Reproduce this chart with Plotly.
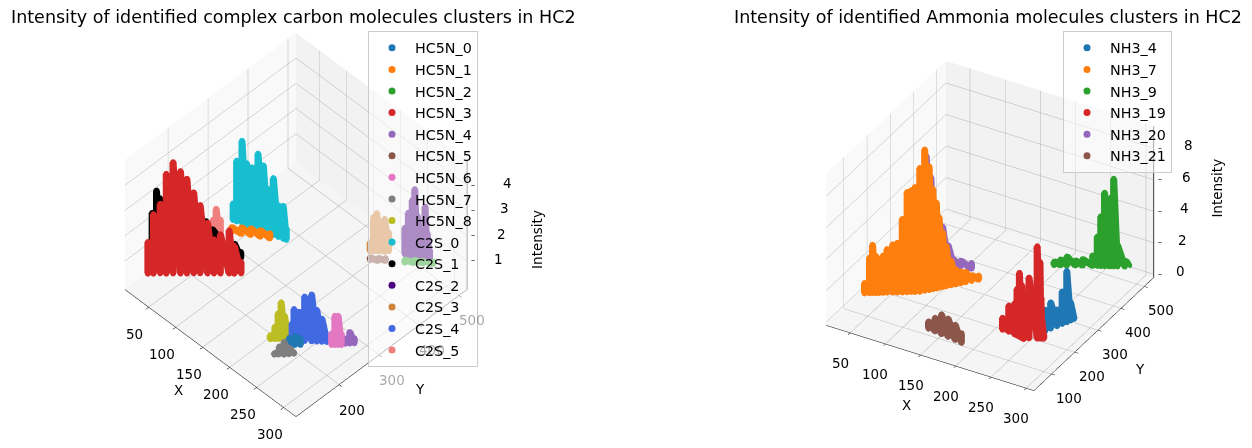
import plotly.graph_objects as go

# ---------- left panel: columns (x, y, peak intensity) ----------
HC5N_0_x = [232, 238, 243]
HC5N_0_y = [198, 204, 211]
HC5N_0_z = [0.3, 0.4, 0.3]
HC5N_1_x = [39, 50, 60, 71, 82]
HC5N_1_y = [314, 324, 334, 343, 352]
HC5N_1_z = [0.25, 0.3, 0.3, 0.3, 0.25]
HC5N_2_x = [237, 246, 255, 265]
HC5N_2_y = [480, 491, 502, 513]
HC5N_2_z = [0.15, 0.15, 0.15, 0.15]
HC5N_3_x = [13, 18, 24, 30, 36, 43, 49, 55, 61, 68, 74, 80, 88, 93, 99]
HC5N_3_y = [140, 147, 156, 163, 172, 181, 189, 198, 206, 215, 223, 231, 242, 248, 257]
HC5N_3_z = [1.3, 2.4, 2.8, 4.0, 4.45, 4.1, 3.8, 3.25, 2.75, 2.05, 1.4, 1.6, 1.75, 1.15, 0.5]
HC5N_4_x = [283, 287, 291]
HC5N_4_y = [269, 275, 281]
HC5N_4_z = [0.25, 0.5, 0.25]
HC5N_5_x = [202, 210, 217]
HC5N_5_y = [441, 449, 459]
HC5N_5_z = [0.15, 0.15, 0.15]
HC5N_6_x = [272, 275, 278, 281]
HC5N_6_y = [250, 254, 258, 262]
HC5N_6_z = [0.5, 1.2, 1.2, 0.5]
HC5N_7_x = [231, 235, 240, 244, 248]
HC5N_7_y = [162, 169, 174, 181, 188]
HC5N_7_z = [0.1, 0.35, 0.55, 0.3, 0.1]
HC5N_8_x = [208, 212, 215, 217, 220, 223, 226]
HC5N_8_y = [183, 189, 193, 198, 202, 207, 211]
HC5N_8_z = [0.2, 0.53, 1.06, 1.47, 0.94, 0.47, 0.2]
C2S_0_x = [25, 30, 37, 44, 51, 60, 67, 74, 81, 88, 95, 99]
C2S_0_y = [337, 339, 343, 345, 349, 352, 356, 358, 362, 365, 368, 370]
C2S_0_z = [0.7, 2.45, 3.3, 2.5, 2.4, 3.05, 2.65, 1.8, 2.3, 1.3, 1.35, 0.5]
C2S_1_x = [7, 9, 12, 15, 19, 25, 52, 57, 75, 80]
C2S_1_y = [150, 156, 163, 167, 173, 185, 233, 242, 273, 282]
C2S_1_z = [1.0, 2.2, 3.05, 2.75, 2.0, 1.4, 1.65, 1.3, 0.65, 0.3]
C2S_2_x = [227, 232, 237, 240, 244, 249, 254, 257, 260]
C2S_2_y = [494, 496, 499, 501, 502, 505, 508, 509, 511]
C2S_2_z = [1.1, 1.75, 2.3, 2.75, 1.75, 1.2, 2.2, 1.2, 0.55]
C2S_3_x = [191, 194, 197, 200, 205, 208]
C2S_3_y = [456, 460, 464, 468, 473, 479]
C2S_3_z = [0.4, 1.4, 1.55, 1.2, 1.35, 0.8]
C2S_4_x = [230, 232, 237, 242, 249, 254, 259, 264]
C2S_4_y = [208, 210, 216, 223, 231, 237, 243, 249]
C2S_4_z = [0.73, 1.3, 1.2, 1.8, 1.9, 1.3, 0.96, 0.3]
C2S_5_x = [33, 38, 43]
C2S_5_y = [276, 277, 281]
C2S_5_z = [0.9, 1.4, 1.0]

# ---------- right panel ----------
NH3_4_x = [256, 260, 263, 267, 270, 273, 275, 277]
NH3_4_y = [210, 227, 242, 257, 270, 281, 291, 300]
NH3_4_z = [1.6, 1.4, 1.7, 1.1, 2.1, 3.3, 1.2, 0.15]
NH3_7_x = [25, 30, 33, 37, 40, 44, 48, 54, 59, 64, 69, 73, 77, 82, 86, 90, 93, 96, 98, 101, 104, 108, 112, 116, 120, 125, 131]
NH3_7_y = [162, 168, 172, 175, 179, 184, 189, 195, 200, 206, 212, 217, 221, 227, 236, 243, 250, 256, 262, 268, 274, 283, 291, 300, 309, 320, 332]
NH3_7_z = [0.7, 2.3, 3.1, 2.4, 2.2, 2.4, 2.8, 3.1, 3.2, 4.7, 6.4, 6.5, 6.7, 7.9, 9.0, 7.9, 6.4, 5.5, 4.5, 3.5, 2.6, 1.6, 1.0, 0.8, 0.7, 0.4, 0.3]
NH3_9_x = [195, 202, 209, 218, 226, 237, 242, 246, 250, 255, 257, 260, 264, 272, 283, 287]
NH3_9_y = [463, 470, 476, 485, 492, 502, 507, 510, 514, 518, 521, 523, 527, 534, 543, 548]
NH3_9_z = [0.25, 0.4, 0.6, 0.35, 0.45, 0.7, 1.9, 3.2, 4.7, 4.1, 4.4, 5.6, 1.4, 0.4, 0.25, 0.2]
NH3_19_x = [213, 222, 231, 235, 239, 243, 246, 251, 260, 263, 264, 265, 267]
NH3_19_y = [186, 186, 183, 182, 180, 178, 177, 185, 193, 196, 197, 198, 200]
NH3_19_z = [0.8, 1.7, 2.0, 3.0, 4.1, 3.4, 2.65, 3.9, 5.9, 4.9, 2.65, 1.2, 0.3]
NH3_20_x = [54, 60, 63, 74, 81, 88, 97, 111]
NH3_20_y = [340, 342, 345, 350, 352, 354, 358, 362]
NH3_20_z = [6.7, 5.4, 2.2, 2.35, 1.25, 0.4, 0.4, 0.4]
NH3_21_x = [133, 143, 153, 163, 174, 184]
NH3_21_y = [110, 108, 105, 103, 100, 97]
NH3_21_z = [0.5, 0.9, 1.3, 1.2, 1.0, 0.65]

X_TICKS = [50, 100, 150, 200, 250, 300]
LEFT_Y_TICKS = [200, 300, 400, 500]
RIGHT_Y_TICKS = [100, 200, 300, 400, 500]
LEFT_Z_TICKS = [1, 2, 3, 4]
RIGHT_Z_TICKS = [0, 2, 4, 6, 8]
LEFT_RANGES = ([6, 323], [92, 520], [-0.13, 5])
RIGHT_RANGES = ([16, 311], [24, 541], [-0.2, 9.4])

FONT = "DejaVu Sans"
W, H = 1244, 440      # the page's own 8 px margin fills up the 1252x448 window
OFF = 8


def fx(px):
    return (px - OFF) / W


def fy(py):
    return 1 - (py - OFF) / H


left_series = [
    ("HC5N_0", "#1f77b4", HC5N_0_x, HC5N_0_y, HC5N_0_z),
    ("HC5N_1", "#ff7f0e", HC5N_1_x, HC5N_1_y, HC5N_1_z),
    ("HC5N_2", "#2ca02c", HC5N_2_x, HC5N_2_y, HC5N_2_z),
    ("HC5N_3", "#d62728", HC5N_3_x, HC5N_3_y, HC5N_3_z),
    ("HC5N_4", "#9467bd", HC5N_4_x, HC5N_4_y, HC5N_4_z),
    ("HC5N_5", "#8c564b", HC5N_5_x, HC5N_5_y, HC5N_5_z),
    ("HC5N_6", "#e377c2", HC5N_6_x, HC5N_6_y, HC5N_6_z),
    ("HC5N_7", "#7f7f7f", HC5N_7_x, HC5N_7_y, HC5N_7_z),
    ("HC5N_8", "#bcbd22", HC5N_8_x, HC5N_8_y, HC5N_8_z),
    ("C2S_0", "#17becf", C2S_0_x, C2S_0_y, C2S_0_z),
    ("C2S_1", "#000000", C2S_1_x, C2S_1_y, C2S_1_z),
    ("C2S_2", "#4b0082", C2S_2_x, C2S_2_y, C2S_2_z),
    ("C2S_3", "#cd853f", C2S_3_x, C2S_3_y, C2S_3_z),
    ("C2S_4", "#4169e1", C2S_4_x, C2S_4_y, C2S_4_z),
    ("C2S_5", "#f08080", C2S_5_x, C2S_5_y, C2S_5_z),
]
right_series = [
    ("NH3_4", "#1f77b4", NH3_4_x, NH3_4_y, NH3_4_z),
    ("NH3_7", "#ff7f0e", NH3_7_x, NH3_7_y, NH3_7_z),
    ("NH3_9", "#2ca02c", NH3_9_x, NH3_9_y, NH3_9_z),
    ("NH3_19", "#d62728", NH3_19_x, NH3_19_y, NH3_19_z),
    ("NH3_20", "#9467bd", NH3_20_x, NH3_20_y, NH3_20_z),
    ("NH3_21", "#8c564b", NH3_21_x, NH3_21_y, NH3_21_z),
]

fig = go.Figure()


def add(series, scene, legend):
    for name, color, xs, ys, zs in series:
        # every column runs from its foot on the floor to its read peak
        px, py, pz = [], [], []
        for a, b, c in zip(xs, ys, zs):
            px += [a, a]
            py += [b, b]
            pz += [0.05, c]
        fig.add_trace(go.Scatter3d(
            x=px, y=py, z=pz, mode="lines+markers", scene=scene,
            legendgroup=name, showlegend=False, hoverinfo="skip",
            marker=dict(size=3.5, color=color, line=dict(width=0)),
            line=dict(color=color, width=14),
        ))
        fig.add_trace(go.Scatter3d(
            x=[None], y=[None], z=[None], mode="markers", scene=scene, name=name,
            legendgroup=name, legend=legend, hoverinfo="skip",
            marker=dict(size=7, color=color, line=dict(width=0)),
        ))


def add_z_axis(ranges, scene):
    # the vertical axis line stands on the far right corner, as in the reference
    fig.add_trace(go.Scatter3d(
        x=[ranges[0][1]] * 2, y=[ranges[1][1]] * 2, z=list(ranges[2]),
        mode="lines", scene=scene, showlegend=False, hoverinfo="skip",
        line=dict(color="black", width=1.5),
    ))


add(left_series, "scene", "legend")
add(right_series, "scene2", "legend2")
add_z_axis(LEFT_RANGES, "scene")
add_z_axis(RIGHT_RANGES, "scene2")


def axis(rng, ticks, bg, marks=True):
    return dict(
        title=dict(text=""),
        range=rng, tickvals=ticks, ticktext=[str(t) for t in ticks],
        showticklabels=False,
        showbackground=True, backgroundcolor=bg,
        gridcolor="#b0b0b0", gridwidth=1, zeroline=False, showspikes=False,
        showline=marks, linecolor="black", linewidth=1,
        ticks="outside" if marks else "", tickcolor="black", ticklen=4,
    )


def legend_box(x, y):
    return dict(
        x=x, y=y, xanchor="left", yanchor="top",
        bgcolor="rgba(255,255,255,0.55)", bordercolor="#cccccc", borderwidth=1,
        font=dict(family=FONT, size=14.3, color="black"),
        itemsizing="trace", itemwidth=36, tracegroupgap=7.5, traceorder="normal",
    )


def scene_text(ranges, x_ticks, y_ticks, z_ticks, xoff, yoff, zbase, zslope, zy, title, xlab, ylab, faded=()):
    xr, yr, zr = ranges
    font = dict(family=FONT, size=13.5, color="black")
    pale = dict(family=FONT, size=13.5, color="rgba(0,0,0,0.35)")
    notes = [dict(x=t, y=yr[0], z=zr[0], text=str(t), showarrow=False, font=font,
                  xshift=xoff[0], yshift=xoff[1]) for t in x_ticks]
    notes += [dict(x=xr[1], y=t, z=zr[0], text=str(t), showarrow=False, font=pale if t in faded else font,
                   xshift=yoff[0], yshift=yoff[1]) for t in y_ticks]
    notes += [dict(x=xr[1], y=yr[1], z=t, text=str(t), showarrow=False, font=font,
                   xshift=zbase + zslope * t, yshift=zy) for t in z_ticks]
    notes += [dict(x=xr[1], y=yr[1], z=t, text="–", showarrow=False, font=dict(family=FONT, size=8, color="black"),
                   xshift=6, yshift=0) for t in z_ticks]
    notes.append(dict(x=xr[1], y=yr[1], z=sum(zr) / 2, text="Intensity", textangle=-90, showarrow=False,
                      font=font, xshift=title[0], yshift=title[1]))
    notes.append(dict(x=sum(xr) / 2, y=yr[0], z=zr[0], text="X", showarrow=False, font=font,
                      xshift=xlab[0], yshift=xlab[1]))
    notes.append(dict(x=xr[1], y=sum(yr) / 2, z=zr[0], text="Y", showarrow=False, font=font,
                      xshift=ylab[0], yshift=ylab[1]))
    return notes


fig.update_layout(
    width=W, height=H, margin=dict(l=0, r=0, t=0, b=0, autoexpand=False),
    paper_bgcolor="white", showlegend=True,
    scene=dict(
        domain=dict(x=[fx(40), fx(552)], y=[0, 1]),
        xaxis=axis(LEFT_RANGES[0], X_TICKS, "#f9f9f9"),
        yaxis=axis(LEFT_RANGES[1], LEFT_Y_TICKS, "#f2f2f2"),
        zaxis=axis(LEFT_RANGES[2], LEFT_Z_TICKS, "#f5f5f5", marks=False),
        aspectmode="manual", aspectratio=dict(x=1.1, y=1.1, z=0.88),
        camera=dict(eye=dict(x=0.87, y=-0.87, z=1.345), center=dict(x=0, y=0, z=-0.022),
                    up=dict(x=0, y=0, z=1), projection=dict(type="orthographic")),
        annotations=scene_text(LEFT_RANGES, X_TICKS, LEFT_Y_TICKS, LEFT_Z_TICKS, (-14, -27), (13, -25),
                               28, 3, 2, (70, -15), (-32, -37), (38, -36), faded=(300, 400, 500)),
    ),
    scene2=dict(
        domain=dict(x=[fx(734), fx(1246)], y=[0, 1]),
        xaxis=axis(RIGHT_RANGES[0], X_TICKS, "#f9f9f9"),
        yaxis=axis(RIGHT_RANGES[1], RIGHT_Y_TICKS, "#f2f2f2"),
        zaxis=axis(RIGHT_RANGES[2], RIGHT_Z_TICKS, "#f5f5f5", marks=False),
        aspectmode="manual", aspectratio=dict(x=1.09, y=1.09, z=0.82),
        camera=dict(eye=dict(x=0.769, y=-1.333, z=0.988), center=dict(x=0, y=0, z=-0.012),
                    up=dict(x=0, y=0, z=1), projection=dict(type="orthographic")),
        annotations=scene_text(RIGHT_RANGES, X_TICKS, RIGHT_Y_TICKS, RIGHT_Z_TICKS, (-10, -30), (17, -24),
                               27, 1, 3, (63, 14), (-24, -47), (46, -35)),
    ),
    legend=legend_box(fx(368), fy(31)),
    legend2=legend_box(fx(1063), fy(31)),
    annotations=[
        dict(text="Intensity of identified complex carbon molecules clusters in HC2",
             x=fx(293), y=fy(17), xref="paper", yref="paper", xanchor="center", yanchor="middle",
             showarrow=False, font=dict(family=FONT, size=17.5, color="black")),
        dict(text="Intensity of identified Ammonia molecules clusters in HC2",
             x=fx(988), y=fy(17), xref="paper", yref="paper", xanchor="center", yanchor="middle",
             showarrow=False, font=dict(family=FONT, size=17.5, color="black")),
    ],
)

fig.write_html("out.html")
